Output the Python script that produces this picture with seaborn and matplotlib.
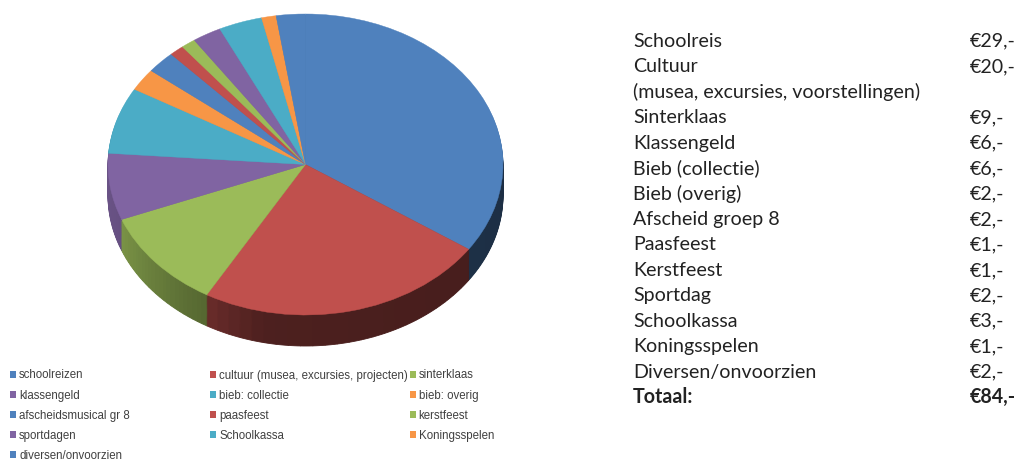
import numpy as np
import matplotlib
matplotlib.use("Agg")
import matplotlib.pyplot as plt
from matplotlib.patches import Patch
import seaborn as sns

# ---- data ----
legend_labels = ["schoolreizen", "cultuur (musea, excursies, projecten)", "sinterklaas",
                 "klassengeld", "bieb: collectie", "bieb: overig",
                 "afscheidsmusical gr 8", "paasfeest", "kerstfeest",
                 "sportdagen", "Schoolkassa", "Koningsspelen",
                 "diversen/onvoorzien"]
values = [29, 20, 9, 6, 6, 2, 2, 1, 1, 2, 3, 1, 2]
base_colors = ["#4F81BD", "#C0504D", "#9BBB59", "#8064A2", "#4BACC6", "#F79646"]

table_names = ["Schoolreis", "Cultuur", "(musea, excursies, voorstellingen)", "Sinterklaas",
               "Klassengeld", "Bieb (collectie)", "Bieb (overig)", "Afscheid groep 8",
               "Paasfeest", "Kerstfeest", "Sportdag", "Schoolkassa", "Koningsspelen",
               "Diversen/onvoorzien", "Totaal:"]
table_amounts = ["€29,-", "€20,-", "", "€9,-", "€6,-", "€6,-", "€2,-", "€2,-",
                 "€1,-", "€1,-", "€2,-", "€3,-", "€1,-", "€2,-", "€84,-"]

sns.set_theme(style="white")
W, H = 1015, 459
fig = plt.figure(figsize=(W / 100, H / 100), dpi=100, facecolor="white")

palette = sns.color_palette(base_colors)
colors = [palette[i % len(palette)] for i in range(len(values))]

# pie axes: top face ellipse 395 x 301 px, plus 31 px of extrusion below
left, right, top, face_bottom, depth_px = 108, 503, 14, 315, 31
ax = fig.add_axes([left / W, 1 - (face_bottom + depth_px) / H,
                   (right - left) / W, (face_bottom + depth_px - top) / H])
depth = depth_px / ((face_bottom - top) / 2)


def shade(angle):
    """Lighting of the side wall as a function of the direction (degrees, clockwise run)."""
    a = angle % 360
    return float(np.interp(a, [170, 200, 240, 258, 300, 360], [0.85, 0.8, 0.55, 0.40, 0.38, 0.36]))


def draw_pie(vals, cols, off, lw):
    wedges, _ = ax.pie(vals, colors=cols, startangle=90, counterclock=False, center=(0, -off))
    for w in wedges:
        w.set_edgecolor(w.get_facecolor())
        w.set_linewidth(lw)


# side wall: the same slices, cut finer so the light can vary along the rim
sub_vals, sub_cols = [], []
total = sum(values)
run = 90.0
for v, c in zip(values, colors):
    n = 24
    for k in range(n):
        mid = run - (k + 0.5) / n * v / total * 360
        f = shade(mid)
        sub_vals.append(v / n)
        sub_cols.append(tuple(ch * f for ch in c))
    run -= v / total * 360

for off in np.linspace(depth, 0.01, 32):
    draw_pie(sub_vals, sub_cols, off, 0.6)

# top face
draw_pie(values, colors, 0, 0.3)
ax.set_aspect("auto")
ax.set_xlim(-1, 1)
ax.set_ylim(-1 - depth, 1)
ax.axis("off")

# legend: three separately placed columns
col_x = [10, 210, 409.5]
for c, x in enumerate(col_x):
    idx = list(range(c, len(values), 3))
    handles = [Patch(facecolor=colors[i], edgecolor="none") for i in idx]
    labels = [legend_labels[i] for i in idx]
    fig.legend(handles, labels, loc="upper left", bbox_to_anchor=(x / W, 1 - 369.5 / H),
               bbox_transform=fig.transFigure, frameon=False, ncol=1, borderpad=0, borderaxespad=0,
               prop=dict(family="Liberation Sans", size=8.3), labelcolor="#404040",
               handlelength=0.55, handleheight=0.55, handletextpad=0.25, labelspacing=0.70)

# cost table on the right
row0, row_step = 46.7, 25.47
for i, (name, amt) in enumerate(zip(table_names, table_amounts)):
    y = 1 - (row0 + i * row_step) / H
    weight = "bold" if name == "Totaal:" else "normal"
    fig.text(633 / W, y, name, family="Lato", fontsize=14.1, color="#222222",
             fontweight=weight, va="baseline", ha="left")
    fig.text(970 / W, y, amt, family="Lato", fontsize=14.1, color="#222222",
             fontweight=weight, va="baseline", ha="left")

fig.savefig("out.png", dpi=100)
